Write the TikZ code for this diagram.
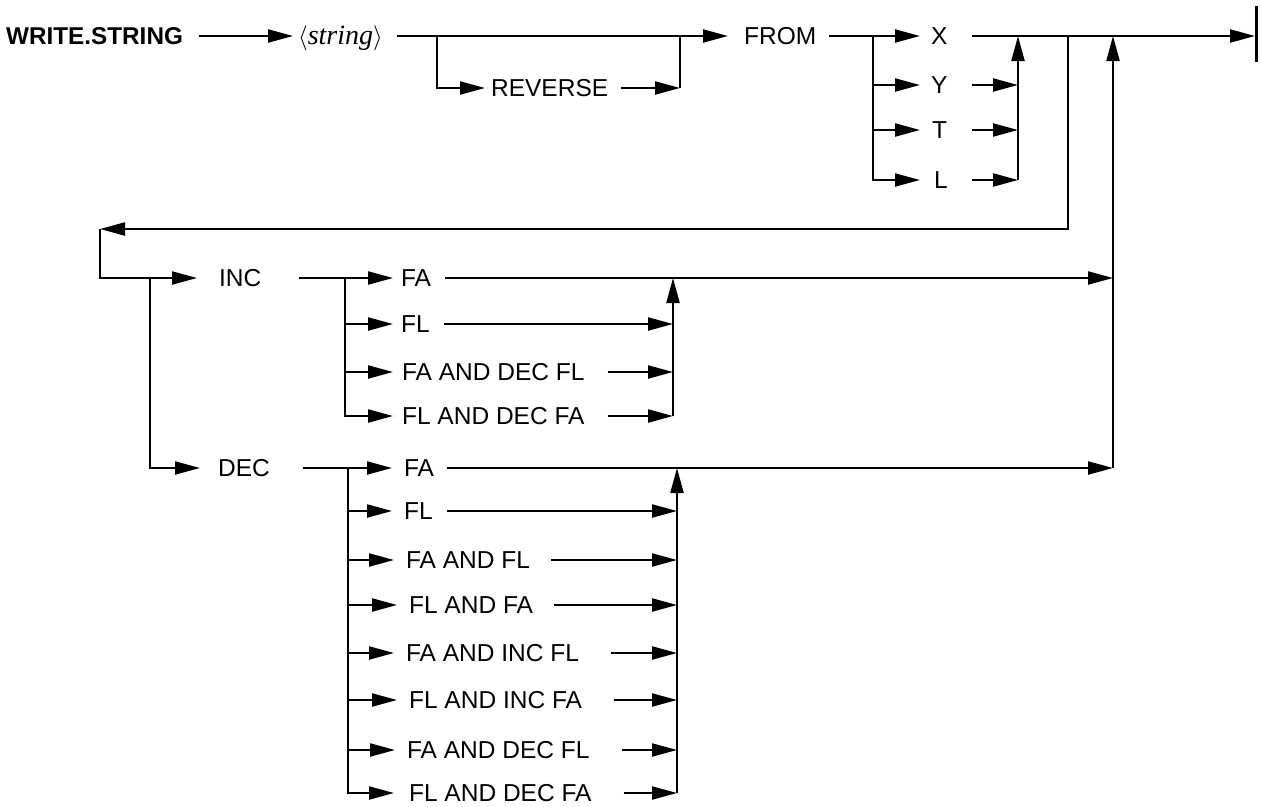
\documentclass[tikz,border=0pt]{standalone}
\usepackage{fontspec}
\setmainfont{Liberation Sans}
\newfontfamily\serifit{Liberation Serif}
\usetikzlibrary{arrows.meta}
\begin{document}
\begin{tikzpicture}[x=1pt,y=-1pt,line width=2.2pt,
  arr/.style={-{Triangle[length=25pt,width=13pt]}},
  lbl/.style={anchor=west,inner sep=0pt,text height=17.5pt,text depth=0pt,font=\fontsize{24.5}{26}\selectfont},
  lblb/.style={lbl,font=\bfseries\fontsize{24.3}{26}\selectfont}]
\useasboundingbox (0,0) rectangle (1261,806);
% ---------- row 1 ----------
\node[lblb] (ws) at (5,36) {WRITE.STRING};
\node[lbl] (str) at (297,36) {\fontsize{28}{30}\selectfont$\langle$\serifit\itshape string\/$\rangle$};
\node[lbl] (rev) at (490,88) {REVERSE};
\node[lbl] (from) at (743,36) {FROM};
\node[lbl] (X) at (930,36) {X};
\node[lbl] (Y) at (930,85) {Y};
\node[lbl] (T) at (931,130) {T};
\node[lbl] (L) at (933,180) {L};
\coordinate (b1) at (437,36);
\coordinate (m1) at (680,36);
\coordinate (b2) at (873,36);
\coordinate (s1) at (972,36);
\coordinate (c1) at (1018,36);
\coordinate (b3) at (1068,36);
\coordinate (ret) at (1113,36);
\coordinate (e) at (1255,36);
\coordinate (eb1) at (1256.5,6);
\coordinate (eb2) at (1256.5,62);
\draw[arr] ([xshift=15pt]ws.east) -- ([xshift=-4pt]str.west);
\draw[arr] ([xshift=13pt]str.east) -- ([xshift=-15pt]from.west);
\draw[arr] (b1) |- ([xshift=-5pt]rev.west);
\draw[arr] ([xshift=12pt]rev.east) -- (m1 |- rev);
\draw (m1 |- rev) -- (m1);
\draw ([xshift=12pt]from.east) -- (b2);
\draw[arr] (b2) -- ([xshift=-10pt]X.west);
\draw[arr] (b2 |- Y) -- ([xshift=-10pt]Y.west);
\draw[arr] (b2 |- T) -- ([xshift=-11pt]T.west);
\draw[arr] (b2) |- ([xshift=-13pt]L.west);
\draw[arr] (s1 |- Y) -- (c1 |- Y);
\draw[arr] (s1 |- T) -- (c1 |- T);
\draw[arr] (s1 |- L) -- (c1 |- L);
\draw[arr] (c1 |- L) -- (c1);
\draw[arr] (s1) -- (e);
\draw[line width=3pt] (eb1) -- (eb2);
% ---------- loop back ----------
\coordinate (lp) at (100,229);
\coordinate (lp2) at (100,278);
\coordinate (b4) at (150,278);
\node[lbl] (inc) at (218,278) {INC};
\node[lbl] (dec) at (217,468) {DEC};
\draw[arr] (b3) |- (lp);
\draw[arr] (lp) -- (lp2) -- ([xshift=-21pt]inc.west);
\draw[arr] (b4) |- ([xshift=-17pt]dec.west);
% ---------- INC ----------
\coordinate (b5) at (345,278);
\coordinate (c2) at (673,278);
\node[lbl] (ifa) at (400,278) {FA};
\node[lbl] (ifl) at (400,324) {FL};
\node[lbl] (ifadfl) at (401,372) {FA AND DEC FL};
\node[lbl] (ifldfa) at (401,416) {FL AND DEC FA};
\draw ([xshift=37pt]inc.east) -- (b5);
\draw[arr] (b5) -- ([xshift=-7pt]ifa.west);
\draw[arr] (b5 |- ifl) -- ([xshift=-7pt]ifl.west);
\draw[arr] (b5 |- ifadfl) -- ([xshift=-8pt]ifadfl.west);
\draw[arr] (b5) |- ([xshift=-8pt]ifldfa.west);
\draw[arr] ([xshift=13pt]ifa.east) -- (ret |- ifa);
\draw[arr] ([xshift=13pt]ifl.east) -- (c2 |- ifl);
\draw[arr] ([xshift=22pt]ifadfl.east) -- (c2 |- ifadfl);
\draw[arr] ([xshift=22pt]ifldfa.east) -- (c2 |- ifldfa);
\draw[arr] (c2 |- ifldfa) -- (c2);
% ---------- DEC ----------
\coordinate (b6) at (348,468);
\coordinate (c3) at (677,468);
\node[lbl] (dfa) at (403,468) {FA};
\node[lbl] (dfl) at (403,511) {FL};
\node[lbl] (d3) at (405,560) {FA AND FL};
\node[lbl] (d4) at (408,605) {FL AND FA};
\node[lbl] (d5) at (405,653) {FA AND INC FL};
\node[lbl] (d6) at (408,700) {FL AND INC FA};
\node[lbl] (d7) at (406,750) {FA AND DEC FL};
\node[lbl] (d8) at (408,793) {FL AND DEC FA};
\draw ([xshift=32pt]dec.east) -- (b6);
\draw[arr] (b6) -- ([xshift=-11pt]dfa.west);
\foreach \n in {dfl,d3,d4,d5,d6,d7}{
  \draw[arr] (b6 |- \n) -- ([xshift=-11pt]\n.west);
}
\draw[arr] (b6) |- ([xshift=-14pt]d8.west);
\draw[arr] ([xshift=12pt]dfa.east) -- (ret |- dfa);
\draw[arr] ([xshift=13pt]dfl.east) -- (c3 |- dfl);
\draw[arr] ([xshift=20pt]d3.east) -- (c3 |- d3);
\draw[arr] ([xshift=20pt]d4.east) -- (c3 |- d4);
\foreach \n in {d5,d6,d7,d8}{
  \draw[arr] ([xshift=31pt]\n.east) -- (c3 |- \n);
}
\draw[arr] (c3 |- d8) -- (c3);
\draw[arr] (ret |- dfa) -- (ret);
\end{tikzpicture}
\end{document}
